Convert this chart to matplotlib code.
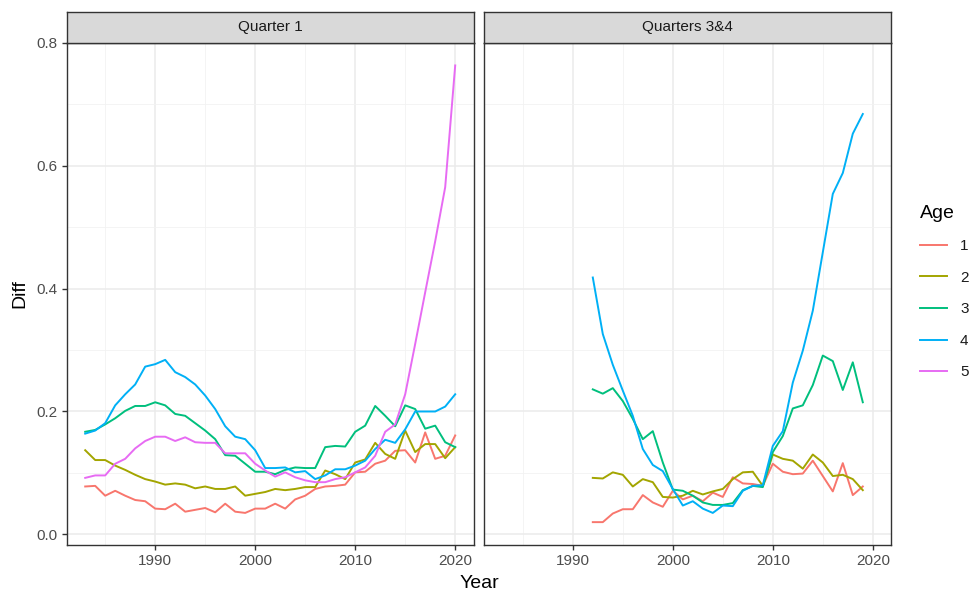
import numpy as np
import matplotlib
matplotlib.use("Agg")
import matplotlib.pyplot as plt
from matplotlib.lines import Line2D
from matplotlib.ticker import MultipleLocator

plt.rcParams["font.family"] = ["Liberation Sans", "DejaVu Sans"]

# ---- data -------------------------------------------------------------
ages = ["1", "2", "3", "4", "5"]
colors = ["#F8766D", "#A3A500", "#00BF7D", "#00B0F6", "#E76BF3"]

years_q1 = np.arange(1983, 2021)
q1_age1 = [0.078, 0.079, 0.063, 0.071, 0.063, 0.056, 0.054, 0.042, 0.041, 0.050,
           0.037, 0.040, 0.043, 0.036, 0.050, 0.037, 0.035, 0.042, 0.042, 0.050,
           0.042, 0.057, 0.063, 0.074, 0.078, 0.079, 0.081, 0.101, 0.102, 0.115,
           0.120, 0.136, 0.137, 0.117, 0.166, 0.123, 0.128, 0.161]
q1_age2 = [0.137, 0.121, 0.121, 0.112, 0.105, 0.097, 0.090, 0.086, 0.081, 0.083,
           0.081, 0.075, 0.078, 0.074, 0.074, 0.078, 0.063, 0.066, 0.069, 0.074,
           0.072, 0.074, 0.077, 0.077, 0.104, 0.098, 0.090, 0.117, 0.122, 0.149,
           0.131, 0.123, 0.169, 0.134, 0.147, 0.147, 0.124, 0.142]
q1_age3 = [0.167, 0.170, 0.179, 0.189, 0.201, 0.209, 0.209, 0.215, 0.210, 0.196,
           0.193, 0.181, 0.169, 0.155, 0.129, 0.128, 0.115, 0.102, 0.102, 0.098,
           0.105, 0.109, 0.108, 0.108, 0.142, 0.144, 0.143, 0.167, 0.177, 0.209,
           0.193, 0.176, 0.210, 0.204, 0.172, 0.177, 0.150, 0.142]
q1_age4 = [0.164, 0.169, 0.181, 0.210, 0.228, 0.244, 0.273, 0.277, 0.284, 0.264,
           0.256, 0.244, 0.226, 0.204, 0.176, 0.159, 0.155, 0.137, 0.108, 0.108,
           0.109, 0.101, 0.103, 0.090, 0.096, 0.106, 0.106, 0.112, 0.120, 0.139,
           0.154, 0.149, 0.171, 0.200, 0.200, 0.200, 0.208, 0.228]
q1_age5 = [0.092, 0.096, 0.096, 0.115, 0.123, 0.140, 0.152, 0.159, 0.159, 0.152,
           0.158, 0.150, 0.149, 0.149, 0.132, 0.132, 0.132, 0.115, 0.104, 0.094,
           0.101, 0.093, 0.088, 0.085, 0.085, 0.090, 0.093, 0.101, 0.109, 0.128,
           0.167, 0.179, 0.228, 0.310, 0.394, 0.477, 0.565, 0.763]

years_q34 = np.arange(1992, 2020)
q34_age1 = [0.020, 0.020, 0.034, 0.041, 0.041, 0.064, 0.052, 0.045, 0.071, 0.057,
            0.063, 0.054, 0.068, 0.061, 0.093, 0.083, 0.082, 0.079, 0.115, 0.102,
            0.098, 0.099, 0.120, 0.095, 0.070, 0.116, 0.064, 0.078]
q34_age2 = [0.092, 0.091, 0.101, 0.097, 0.078, 0.090, 0.085, 0.061, 0.060, 0.063,
            0.071, 0.065, 0.070, 0.074, 0.090, 0.101, 0.102, 0.079, 0.130, 0.123,
            0.120, 0.107, 0.130, 0.117, 0.095, 0.097, 0.090, 0.072]
q34_age3 = [0.236, 0.229, 0.238, 0.217, 0.188, 0.155, 0.168, 0.117, 0.073, 0.071,
            0.063, 0.052, 0.048, 0.048, 0.051, 0.072, 0.079, 0.077, 0.134, 0.160,
            0.205, 0.210, 0.243, 0.291, 0.282, 0.235, 0.280, 0.215]
q34_age4 = [0.418, 0.326, 0.276, 0.234, 0.193, 0.139, 0.113, 0.103, 0.074, 0.047,
            0.054, 0.042, 0.035, 0.047, 0.046, 0.071, 0.079, 0.080, 0.144, 0.168,
            0.247, 0.299, 0.364, 0.459, 0.554, 0.588, 0.652, 0.684]

panels = [
    ("Quarter 1", years_q1, [q1_age1, q1_age2, q1_age3, q1_age4, q1_age5]),
    ("Quarters 3&4", years_q34, [q34_age1, q34_age2, q34_age3, q34_age4]),
]

# ---- styling ----------------------------------------------------------
W, H = 974, 594
fig = plt.figure(figsize=(W / 100, H / 100), dpi=100)

border = "#333333"
tick_col = "#4D4D4D"

xlim = (1981.15, 2021.85)
ylim = (-0.0172, 0.800)

panel_left_px = [66.7, 484.3]
panel_w_px = 407.0
panel_top_px, panel_bot_px = 42.7, 545.0
strip_top_px = 12.3

for i, (title, yrs, series) in enumerate(panels):
    lx = panel_left_px[i] / W
    ax = fig.add_axes([lx, 1 - panel_bot_px / H, panel_w_px / W,
                       (panel_bot_px - panel_top_px) / H])
    ax.set_xlim(*xlim)
    ax.set_ylim(*ylim)
    ax.set_axisbelow(True)
    ax.xaxis.set_major_locator(MultipleLocator(10))
    ax.xaxis.set_minor_locator(MultipleLocator(5))
    ax.yaxis.set_major_locator(MultipleLocator(0.2))
    ax.yaxis.set_minor_locator(MultipleLocator(0.1))
    ax.grid(which="major", color="#EBEBEB", linewidth=1.1)
    ax.grid(which="minor", color="#F2F2F2", linewidth=0.6)
    for s in ax.spines.values():
        s.set_color(border)
        s.set_linewidth(1.0)
    ax.tick_params(which="minor", length=0)
    ax.tick_params(which="major", direction="out", length=3.5, width=1.0,
                   color=border, labelsize=11, labelcolor=tick_col, pad=3)
    ax.xaxis.set_major_formatter(plt.FuncFormatter(lambda v, p: f"{int(round(v))}"))
    if i == 0:
        ax.yaxis.set_major_formatter(plt.FuncFormatter(lambda v, p: f"{v:.1f}"))
        ax.set_ylabel("Diff", fontsize=14, color="black", labelpad=6)
    else:
        ax.tick_params(axis="y", which="both", left=False, labelleft=False)

    for vals, c in zip(series, colors):
        ax.plot(yrs, vals, color=c, linewidth=1.4, solid_joinstyle="round")

    # facet strip
    sax = fig.add_axes([lx, 1 - panel_top_px / H, panel_w_px / W,
                        (panel_top_px - strip_top_px) / H])
    sax.set_facecolor("#D9D9D9")
    sax.set_xticks([])
    sax.set_yticks([])
    for s in sax.spines.values():
        s.set_color(border)
        s.set_linewidth(1.0)
    sax.text(0.5, 0.5, title, ha="center", va="center", fontsize=11,
             color="#1A1A1A", transform=sax.transAxes)

fig.text((66.7 + 891.3) / 2 / W, 1 - 583 / H, "Year", ha="center", va="center",
         fontsize=14, color="black")

# legend
handles = [Line2D([], [], color=c, linewidth=1.4) for c in colors]
leg = fig.legend(handles, ages, title="Age", loc="center left",
                 bbox_to_anchor=(912 / W, 1 - 292 / H), frameon=False,
                 fontsize=11, title_fontsize=14, handlelength=1.8,
                 handletextpad=0.85, labelspacing=1.15, borderpad=0)
leg._legend_box.align = "left"
for t in leg.get_texts():
    t.set_color("#1A1A1A")

fig.savefig("out.png", dpi=100)
